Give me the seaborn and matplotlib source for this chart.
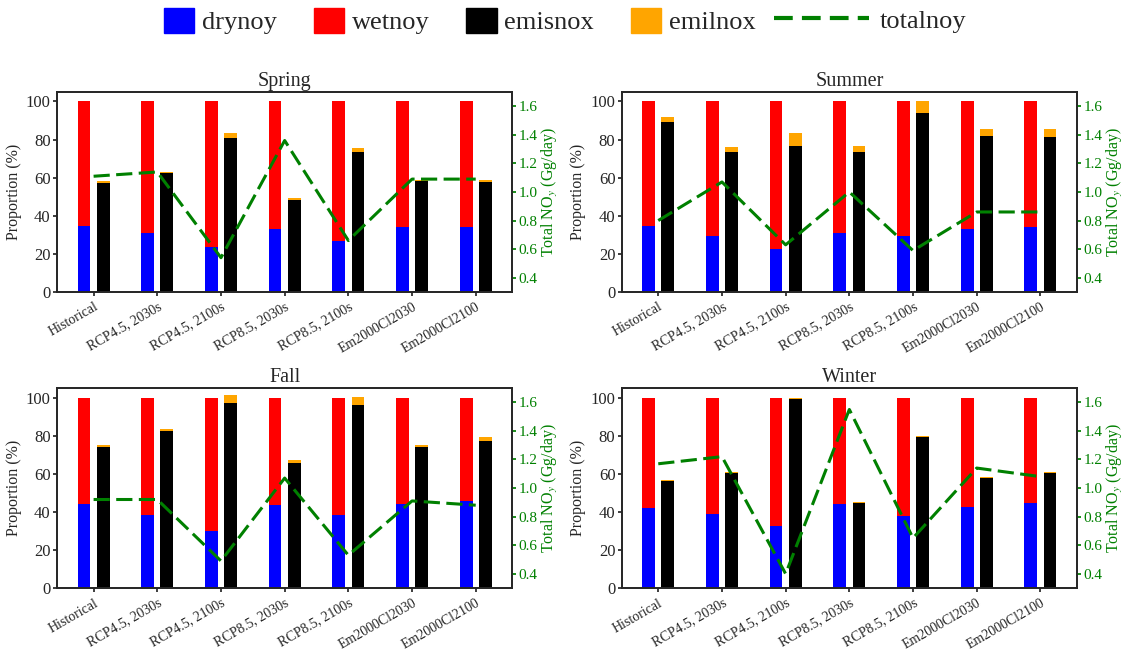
import numpy as np
import pandas as pd
import matplotlib.pyplot as plt
import seaborn as sns
from matplotlib.patches import Patch
from matplotlib.lines import Line2D

# シナリオと季節
scenarios = ['Historical', 'RCP4.5, 2030s', 'RCP4.5, 2100s', 'RCP8.5, 2030s',
             'RCP8.5, 2100s', 'Em2000Cl2030', 'Em2000Cl2100']
seasons = ['Spring', 'Summer', 'Fall', 'Winter']

# drynoy (%)  wetnoy = 100 - drynoy
drynoy = {
    'Spring': [34.9, 30.8, 23.6, 33.1, 26.6, 34.2, 34.2],
    'Summer': [34.9, 29.2, 22.4, 30.8, 29.4, 33.1, 34.3],
    'Fall':   [44.3, 38.2, 30.1, 43.6, 38.2, 44.3, 45.7],
    'Winter': [41.9, 38.7, 32.7, 44.3, 37.7, 42.7, 44.7],
}
# emisnox (%)
emisnox = {
    'Spring': [57.3, 62.2, 80.6, 48.3, 73.7, 58.0, 57.8],
    'Summer': [89.1, 73.6, 76.7, 73.6, 94.0, 82.1, 81.6],
    'Fall':   [73.9, 82.3, 97.2, 65.8, 96.1, 73.9, 77.4],
    'Winter': [56.4, 60.6, 99.5, 44.5, 79.5, 57.6, 60.4],
}
# emilnox (%)
emilnox = {
    'Spring': [0.7, 1.0, 2.6, 0.9, 2.0, 1.0, 1.0],
    'Summer': [2.8, 2.6, 6.8, 3.1, 6.0, 3.2, 3.7],
    'Fall':   [1.1, 1.4, 4.0, 1.6, 4.1, 1.4, 1.8],
    'Winter': [0.5, 0.5, 0.5, 0.5, 0.5, 0.5, 0.5],
}
# totalnoy (Gg/day)
totalnoy = {
    'Spring': [1.11, 1.14, 0.54, 1.36, 0.66, 1.09, 1.09],
    'Summer': [0.80, 1.07, 0.63, 1.00, 0.59, 0.86, 0.86],
    'Fall':   [0.92, 0.92, 0.49, 1.07, 0.53, 0.91, 0.88],
    'Winter': [1.17, 1.22, 0.40, 1.55, 0.65, 1.14, 1.08],
}

sns.set_theme(style='ticks')
plt.rcParams['font.family'] = ['Liberation Serif', 'DejaVu Serif']
plt.rcParams['mathtext.fontset'] = 'stix'

fig, axes = plt.subplots(2, 2, figsize=(11.26, 6.52), dpi=100)
plt.subplots_adjust(left=0.0506, right=0.9565, top=0.859, bottom=0.098,
                    wspace=0.24, hspace=0.48)

dash = (0, (5.3, 2.1))

for ax, season in zip(axes.flat, seasons):
    dry = np.array(drynoy[season])
    emis = np.array(emisnox[season])
    emil = np.array(emilnox[season])

    # 後ろの層 (wetnoy の上端 = 100, emilnox の上端 = emis + emil)
    back = pd.DataFrame({
        'scenario': scenarios * 2,
        'kind': ['dep'] * 7 + ['emis'] * 7,
        'value': list(dry + (100 - dry)) + list(emis + emil),
    })
    # 前の層 (drynoy, emisnox)
    front = pd.DataFrame({
        'scenario': scenarios * 2,
        'kind': ['dep'] * 7 + ['emis'] * 7,
        'value': list(dry) + list(emis),
    })
    sns.barplot(data=back, x='scenario', y='value', hue='kind',
                palette={'dep': 'red', 'emis': 'orange'}, width=0.6, gap=1 / 3,
                saturation=1, errorbar=None, linewidth=0, legend=False, ax=ax)
    sns.barplot(data=front, x='scenario', y='value', hue='kind',
                palette={'dep': 'blue', 'emis': 'black'}, width=0.6, gap=1 / 3,
                saturation=1, errorbar=None, linewidth=0, legend=False, ax=ax)

    ax.set_ylim(0, 105)
    ax.set_xlim(-0.575, 6.575)
    ax.set_title(season, fontsize=14.5, pad=4)
    ax.set_xlabel('')
    ax.set_ylabel('Proportion (%)', fontsize=11.5, labelpad=3)
    ax.tick_params(axis='y', labelsize=12, length=3, pad=1.5)
    ax.tick_params(axis='x', labelsize=10, length=3, pad=3)
    ax.set_xticks(range(len(scenarios)))
    ax.set_xticklabels(scenarios, rotation=30, ha='right', va='top',
                       rotation_mode='anchor')

    # 右軸: totalnoy
    ax2 = ax.twinx()
    sns.lineplot(x=np.arange(len(scenarios)), y=totalnoy[season], ax=ax2,
                 color='green', linestyle=dash, linewidth=2.2)
    ax2.set_ylim(0.3, 1.7)
    ax2.set_yticks([0.4, 0.6, 0.8, 1.0, 1.2, 1.4, 1.6])
    ax2.set_yticklabels(['0.4', '0.6', '0.8', '1.0', '1.2', '1.4', '1.6'])
    ax2.tick_params(axis='y', colors='green', labelsize=11, length=3, pad=1.5)
    ax2.set_ylabel('Total NO$_y$ (Gg/day)', color='green', fontsize=11.5,
                   labelpad=2)
    ax2.set_xlim(-0.575, 6.575)

# 凡例
patch_handles = [Patch(color='blue'), Patch(color='red'),
                 Patch(color='black'), Patch(color='orange')]
fig.legend(patch_handles, ['drynoy', 'wetnoy', 'emisnox', 'emilnox'],
           loc='center left', bbox_to_anchor=(0.1456, 0.968), ncol=4,
           frameon=False, fontsize=19, handlelength=1.14, handleheight=1.1,
           handletextpad=0.3, columnspacing=1.4, borderpad=0, borderaxespad=0)
fig.legend([Line2D([], [], color='green', linestyle=(0, (4.5, 2.2)), linewidth=3)],
           ['totalnoy'], loc='center left', bbox_to_anchor=(0.6874, 0.968),
           frameon=False, fontsize=19, handlelength=3.6, handletextpad=0.4,
           borderpad=0, borderaxespad=0)

plt.savefig('out.png', dpi=100)
